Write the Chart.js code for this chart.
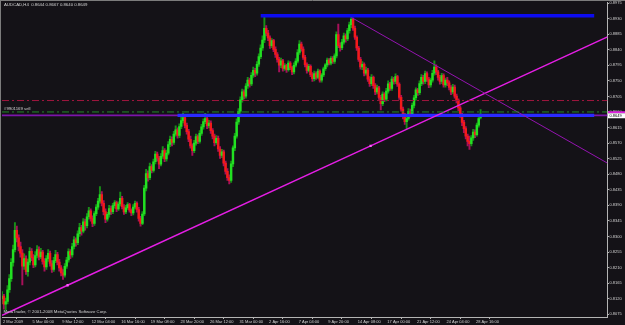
<!DOCTYPE html>
<html>
<head>
<meta charset="utf-8">
<script src="https://cdn.jsdelivr.net/npm/chart.js@4.4.1/dist/chart.umd.min.js"></script>
<style>
  html, body { margin: 0; padding: 0; background: #141217; }
  canvas { display: block; }
</style>
</head>
<body>
<canvas id="chart" width="625" height="325"></canvas>
<script>
// AUDCAD H4, 2 Mar 2009 - 29 Apr 2009
const symbol = "AUDCAD,H4";

const open = [
  0.8120, 0.8128, 0.8104, 0.8112, 0.8146, 0.8178, 0.8225, 0.8262, 0.8318, 0.8296,
  0.8271, 0.8252, 0.8214, 0.8236, 0.8198, 0.8226, 0.8257, 0.8239, 0.8218, 0.8245,
  0.8262, 0.8241, 0.8255, 0.8228, 0.8212, 0.8236, 0.8251, 0.8222, 0.8205, 0.8230,
  0.8248, 0.8226, 0.8209, 0.8195, 0.8188, 0.8214, 0.8232, 0.8256, 0.8247, 0.8271,
  0.8290, 0.8282, 0.8308, 0.8326, 0.8315, 0.8342, 0.8331, 0.8357, 0.8374, 0.8352,
  0.8338, 0.8366, 0.8385, 0.8402, 0.8421, 0.8396, 0.8372, 0.8350, 0.8364, 0.8381,
  0.8372, 0.8389, 0.8398, 0.8380, 0.8394, 0.8410, 0.8386, 0.8371, 0.8383, 0.8392,
  0.8376, 0.8368, 0.8385, 0.8396, 0.8378, 0.8352, 0.8338, 0.8365, 0.8440, 0.8482,
  0.8470, 0.8502, 0.8491, 0.8516, 0.8538, 0.8527, 0.8509, 0.8532, 0.8548, 0.8524,
  0.8541, 0.8566, 0.8581, 0.8572, 0.8596, 0.8608, 0.8592, 0.8618, 0.8635, 0.8644,
  0.8621, 0.8603, 0.8581, 0.8562, 0.8548, 0.8570, 0.8589, 0.8575, 0.8598, 0.8617,
  0.8632, 0.8641, 0.8620, 0.8628, 0.8606, 0.8590, 0.8571, 0.8584, 0.8553, 0.8534,
  0.8545, 0.8512, 0.8488, 0.8470, 0.8462, 0.8510, 0.8556, 0.8590, 0.8631, 0.8662,
  0.8695, 0.8718, 0.8706, 0.8735, 0.8752, 0.8741, 0.8766, 0.8780, 0.8772, 0.8798,
  0.8820, 0.8845, 0.8868, 0.8902, 0.8888, 0.8874, 0.8852, 0.8866, 0.8841, 0.8826,
  0.8812, 0.8795, 0.8808, 0.8786, 0.8794, 0.8782, 0.8801, 0.8788, 0.8776, 0.8795,
  0.8807, 0.8832, 0.8856, 0.8842, 0.8818, 0.8797, 0.8780, 0.8792, 0.8768, 0.8756,
  0.8771, 0.8760, 0.8778, 0.8752, 0.8767, 0.8785, 0.8796, 0.8810, 0.8801, 0.8815,
  0.8806, 0.8822, 0.8884, 0.8852, 0.8846, 0.8862, 0.8880, 0.8871, 0.8895, 0.8912,
  0.8928, 0.8902, 0.8876, 0.8845, 0.8812, 0.8790, 0.8798, 0.8772, 0.8781, 0.8755,
  0.8742, 0.8760, 0.8736, 0.8718, 0.8730, 0.8702, 0.8684, 0.8712, 0.8697, 0.8720,
  0.8741, 0.8728, 0.8755, 0.8748, 0.8762, 0.8740, 0.8702, 0.8668, 0.8650, 0.8632,
  0.8641, 0.8662, 0.8654, 0.8679, 0.8701, 0.8724, 0.8716, 0.8742, 0.8760, 0.8748,
  0.8771, 0.8755, 0.8738, 0.8752, 0.8772, 0.8790, 0.8776, 0.8760, 0.8748, 0.8765,
  0.8738, 0.8752, 0.8744, 0.8731, 0.8718, 0.8732, 0.8706, 0.8694, 0.8672, 0.8651,
  0.8630, 0.8612, 0.8590, 0.8575, 0.8568, 0.8585, 0.8602, 0.8594, 0.8622, 0.8644
];
const high = [
  0.8141, 0.8133, 0.8122, 0.8158, 0.8190, 0.8236, 0.8275, 0.8340, 0.8330, 0.8305,
  0.8284, 0.8262, 0.8250, 0.8244, 0.8235, 0.8268, 0.8265, 0.8248, 0.8256, 0.8274,
  0.8270, 0.8266, 0.8260, 0.8236, 0.8245, 0.8262, 0.8258, 0.8230, 0.8240, 0.8260,
  0.8254, 0.8234, 0.8216, 0.8204, 0.8222, 0.8240, 0.8264, 0.8262, 0.8280, 0.8300,
  0.8296, 0.8316, 0.8338, 0.8332, 0.8352, 0.8350, 0.8366, 0.8384, 0.8380, 0.8360,
  0.8372, 0.8392, 0.8410, 0.8444, 0.8430, 0.8404, 0.8380, 0.8370, 0.8390, 0.8388,
  0.8396, 0.8404, 0.8402, 0.8400, 0.8428, 0.8416, 0.8392, 0.8390, 0.8398, 0.8396,
  0.8380, 0.8392, 0.8402, 0.8400, 0.8384, 0.8358, 0.8372, 0.8448, 0.8494, 0.8490,
  0.8512, 0.8508, 0.8524, 0.8546, 0.8544, 0.8532, 0.8540, 0.8560, 0.8554, 0.8550,
  0.8574, 0.8590, 0.8588, 0.8604, 0.8620, 0.8614, 0.8626, 0.8645, 0.8656, 0.8650,
  0.8628, 0.8610, 0.8590, 0.8568, 0.8578, 0.8596, 0.8594, 0.8606, 0.8624, 0.8640,
  0.8656, 0.8648, 0.8636, 0.8634, 0.8612, 0.8596, 0.8592, 0.8590, 0.8560, 0.8552,
  0.8550, 0.8518, 0.8496, 0.8478, 0.8518, 0.8562, 0.8598, 0.8640, 0.8670, 0.8704,
  0.8726, 0.8724, 0.8742, 0.8760, 0.8758, 0.8774, 0.8790, 0.8786, 0.8806, 0.8828,
  0.8854, 0.8880, 0.8934, 0.8910, 0.8896, 0.8880, 0.8872, 0.8870, 0.8848, 0.8832,
  0.8818, 0.8816, 0.8812, 0.8800, 0.8798, 0.8808, 0.8806, 0.8792, 0.8802, 0.8814,
  0.8840, 0.8866, 0.8862, 0.8848, 0.8824, 0.8802, 0.8798, 0.8796, 0.8774, 0.8778,
  0.8776, 0.8784, 0.8782, 0.8772, 0.8790, 0.8800, 0.8816, 0.8814, 0.8820, 0.8820,
  0.8828, 0.8892, 0.8914, 0.8860, 0.8870, 0.8888, 0.8886, 0.8902, 0.8920, 0.8936,
  0.8932, 0.8908, 0.8880, 0.8850, 0.8818, 0.8806, 0.8802, 0.8790, 0.8786, 0.8762,
  0.8768, 0.8764, 0.8742, 0.8738, 0.8734, 0.8708, 0.8718, 0.8716, 0.8728, 0.8750,
  0.8746, 0.8762, 0.8760, 0.8770, 0.8766, 0.8744, 0.8708, 0.8674, 0.8656, 0.8650,
  0.8670, 0.8668, 0.8686, 0.8708, 0.8730, 0.8728, 0.8750, 0.8768, 0.8766, 0.8778,
  0.8776, 0.8760, 0.8758, 0.8780, 0.8808, 0.8796, 0.8780, 0.8766, 0.8772, 0.8770,
  0.8758, 0.8760, 0.8750, 0.8736, 0.8740, 0.8738, 0.8712, 0.8698, 0.8678, 0.8656,
  0.8636, 0.8618, 0.8596, 0.8590, 0.8592, 0.8610, 0.8608, 0.8628, 0.8650, 0.8667
];
const low = [
  0.8106, 0.8090, 0.8086, 0.8105, 0.8138, 0.8170, 0.8214, 0.8255, 0.8284, 0.8258,
  0.8240, 0.8160, 0.8205, 0.8190, 0.8185, 0.8218, 0.8230, 0.8210, 0.8212, 0.8238,
  0.8232, 0.8236, 0.8220, 0.8200, 0.8205, 0.8228, 0.8214, 0.8196, 0.8199, 0.8224,
  0.8218, 0.8200, 0.8186, 0.8176, 0.8182, 0.8208, 0.8226, 0.8236, 0.8240, 0.8264,
  0.8272, 0.8276, 0.8300, 0.8304, 0.8310, 0.8318, 0.8325, 0.8350, 0.8344, 0.8328,
  0.8332, 0.8360, 0.8378, 0.8396, 0.8388, 0.8362, 0.8340, 0.8344, 0.8356, 0.8364,
  0.8366, 0.8382, 0.8372, 0.8375, 0.8388, 0.8380, 0.8364, 0.8366, 0.8378, 0.8370,
  0.8360, 0.8362, 0.8380, 0.8370, 0.8344, 0.8330, 0.8334, 0.8360, 0.8432, 0.8460,
  0.8464, 0.8484, 0.8486, 0.8510, 0.8518, 0.8496, 0.8504, 0.8526, 0.8516, 0.8518,
  0.8536, 0.8560, 0.8562, 0.8566, 0.8590, 0.8584, 0.8586, 0.8612, 0.8628, 0.8614,
  0.8596, 0.8574, 0.8555, 0.8534, 0.8542, 0.8564, 0.8568, 0.8570, 0.8592, 0.8610,
  0.8626, 0.8612, 0.8614, 0.8598, 0.8582, 0.8562, 0.8566, 0.8546, 0.8526, 0.8528,
  0.8504, 0.8480, 0.8462, 0.8452, 0.8456, 0.8502, 0.8548, 0.8584, 0.8624, 0.8656,
  0.8688, 0.8698, 0.8700, 0.8728, 0.8732, 0.8736, 0.8760, 0.8762, 0.8766, 0.8792,
  0.8814, 0.8838, 0.8860, 0.8880, 0.8866, 0.8844, 0.8846, 0.8834, 0.8818, 0.8804,
  0.8776, 0.8788, 0.8778, 0.8780, 0.8774, 0.8778, 0.8782, 0.8768, 0.8770, 0.8790,
  0.8802, 0.8826, 0.8836, 0.8812, 0.8790, 0.8772, 0.8776, 0.8762, 0.8748, 0.8750,
  0.8754, 0.8756, 0.8746, 0.8746, 0.8762, 0.8780, 0.8790, 0.8796, 0.8796, 0.8800,
  0.8800, 0.8816, 0.8846, 0.8836, 0.8840, 0.8856, 0.8862, 0.8866, 0.8888, 0.8904,
  0.8896, 0.8870, 0.8838, 0.8806, 0.8784, 0.8782, 0.8764, 0.8766, 0.8748, 0.8734,
  0.8736, 0.8728, 0.8710, 0.8712, 0.8696, 0.8666, 0.8678, 0.8690, 0.8692, 0.8714,
  0.8722, 0.8722, 0.8740, 0.8742, 0.8734, 0.8696, 0.8662, 0.8640, 0.8624, 0.8612,
  0.8636, 0.8646, 0.8648, 0.8672, 0.8694, 0.8708, 0.8710, 0.8736, 0.8740, 0.8742,
  0.8748, 0.8730, 0.8732, 0.8746, 0.8766, 0.8768, 0.8752, 0.8740, 0.8742, 0.8732,
  0.8732, 0.8736, 0.8724, 0.8710, 0.8712, 0.8700, 0.8686, 0.8664, 0.8644, 0.8620,
  0.8600, 0.8582, 0.8562, 0.8552, 0.8562, 0.8578, 0.8586, 0.8590, 0.8616, 0.8640
];
const close = [
  0.8128, 0.8104, 0.8112, 0.8146, 0.8178, 0.8225, 0.8262, 0.8318, 0.8296, 0.8271,
  0.8252, 0.8214, 0.8236, 0.8198, 0.8226, 0.8257, 0.8239, 0.8218, 0.8245, 0.8262,
  0.8241, 0.8255, 0.8228, 0.8212, 0.8236, 0.8251, 0.8222, 0.8205, 0.8230, 0.8248,
  0.8226, 0.8209, 0.8195, 0.8188, 0.8214, 0.8232, 0.8256, 0.8247, 0.8271, 0.8290,
  0.8282, 0.8308, 0.8326, 0.8315, 0.8342, 0.8331, 0.8357, 0.8374, 0.8352, 0.8338,
  0.8366, 0.8385, 0.8402, 0.8421, 0.8396, 0.8372, 0.8350, 0.8364, 0.8381, 0.8372,
  0.8389, 0.8398, 0.8380, 0.8394, 0.8410, 0.8386, 0.8371, 0.8383, 0.8392, 0.8376,
  0.8368, 0.8385, 0.8396, 0.8378, 0.8352, 0.8338, 0.8365, 0.8440, 0.8482, 0.8470,
  0.8502, 0.8491, 0.8516, 0.8538, 0.8527, 0.8509, 0.8532, 0.8548, 0.8524, 0.8541,
  0.8566, 0.8581, 0.8572, 0.8596, 0.8608, 0.8592, 0.8618, 0.8635, 0.8644, 0.8621,
  0.8603, 0.8581, 0.8562, 0.8548, 0.8570, 0.8589, 0.8575, 0.8598, 0.8617, 0.8632,
  0.8641, 0.8620, 0.8628, 0.8606, 0.8590, 0.8571, 0.8584, 0.8553, 0.8534, 0.8545,
  0.8512, 0.8488, 0.8470, 0.8462, 0.8510, 0.8556, 0.8590, 0.8631, 0.8662, 0.8695,
  0.8718, 0.8706, 0.8735, 0.8752, 0.8741, 0.8766, 0.8780, 0.8772, 0.8798, 0.8820,
  0.8845, 0.8868, 0.8902, 0.8888, 0.8874, 0.8852, 0.8866, 0.8841, 0.8826, 0.8812,
  0.8795, 0.8808, 0.8786, 0.8794, 0.8782, 0.8801, 0.8788, 0.8776, 0.8795, 0.8807,
  0.8832, 0.8856, 0.8842, 0.8818, 0.8797, 0.8780, 0.8792, 0.8768, 0.8756, 0.8771,
  0.8760, 0.8778, 0.8752, 0.8767, 0.8785, 0.8796, 0.8810, 0.8801, 0.8815, 0.8806,
  0.8822, 0.8884, 0.8852, 0.8846, 0.8862, 0.8880, 0.8871, 0.8895, 0.8912, 0.8928,
  0.8902, 0.8876, 0.8845, 0.8812, 0.8790, 0.8798, 0.8772, 0.8781, 0.8755, 0.8742,
  0.8760, 0.8736, 0.8718, 0.8730, 0.8702, 0.8684, 0.8712, 0.8697, 0.8720, 0.8741,
  0.8728, 0.8755, 0.8748, 0.8762, 0.8740, 0.8702, 0.8668, 0.8650, 0.8632, 0.8641,
  0.8662, 0.8654, 0.8679, 0.8701, 0.8724, 0.8716, 0.8742, 0.8760, 0.8748, 0.8771,
  0.8755, 0.8738, 0.8752, 0.8772, 0.8790, 0.8776, 0.8760, 0.8748, 0.8765, 0.8738,
  0.8752, 0.8744, 0.8731, 0.8718, 0.8732, 0.8706, 0.8694, 0.8672, 0.8651, 0.8630,
  0.8612, 0.8590, 0.8575, 0.8568, 0.8585, 0.8602, 0.8594, 0.8622, 0.8641, 0.8649
];

// time axis labels, one every 16 bars
const timeTickBars = [0, 16, 32, 48, 64, 80, 96, 112, 128, 144, 160, 176, 192, 208, 224, 240, 256];
const timeLabels = [
  "2 Mar 2009", "5 Mar 00:00", "9 Mar 12:00", "12 Mar 04:00", "16 Mar 16:00",
  "19 Mar 08:00", "23 Mar 20:00", "26 Mar 12:00", "31 Mar 00:00", "2 Apr 16:00",
  "7 Apr 04:00", "9 Apr 20:00", "14 Apr 08:00", "17 Apr 00:00", "21 Apr 12:00",
  "24 Apr 04:00", "28 Apr 16:00"
];
const priceTicks = [
  0.8975, 0.8930, 0.8885, 0.8840, 0.8795, 0.8750, 0.8705, 0.8660, 0.8615, 0.8570,
  0.8525, 0.8480, 0.8435, 0.8390, 0.8345, 0.8300, 0.8255, 0.8210, 0.8165, 0.8120, 0.8075
];

// drawn objects: [bar index, price]
const supportLine = [[0, 0.8072], [35.5, 0.8159], [199.5, 0.8562], [327.7, 0.8877]];
const resistanceRay = [[189.2, 0.8933], [327.7, 0.8512]];
const topLevel = [[140, 0.8938], [320.5, 0.8938]];
const bidLevel = [[95, 0.8650], [320.5, 0.8650]];
const stopLevel = 0.8693;
const orderLevel = 0.8660;
const baseLevel = 0.8650;
const orderText = "#9901169 sell";

const xMin = 0, xMax = 327.7;
const yMin = 0.80672, yMax = 0.89779;

const bg = "#141217";
const axisColor = "#b4b4b4";
const textColor = "#d2d2d2";
const fontFamily = "'Liberation Sans', Arial, sans-serif";

const bars = close.map((c, i) => i);
const bull = bars.map(i => close[i] >= open[i]);

const pts = arr => arr.map(([x, y]) => ({ x, y }));
const flat = y => [{ x: xMin, y }, { x: xMax, y }];

const lineSet = (data, color, width, extra) => ({
    type: "line",
    data,
    borderColor: color,
    borderWidth: width,
    pointRadius: 0,
    fill: false,
    tension: 0,
    order: 1,
    ...extra,
});

const backgroundPlugin = {
    id: "mtBackground",
    beforeDraw(chart) {
        const ctx = chart.ctx;
        ctx.save();
        ctx.fillStyle = bg;
        ctx.fillRect(0, 0, chart.width, chart.height);
        ctx.strokeStyle = "#7c7c7c";
        ctx.lineWidth = 1;
        ctx.beginPath();
        ctx.moveTo(0, 0.5);
        ctx.lineTo(chart.width, 0.5);
        ctx.moveTo(0.5, 0);
        ctx.lineTo(0.5, chart.height);
        ctx.stroke();
        ctx.restore();
    },
};

const overlayPlugin = {
    id: "mtOverlay",
    afterDraw(chart) {
        const ctx = chart.ctx;
        const y = chart.scales.y;
        const area = chart.chartArea;
        const n = close.length - 1;
        ctx.save();
        ctx.font = "4.3px " + fontFamily;
        ctx.fillStyle = textColor;
        ctx.textBaseline = "middle";
        ctx.textAlign = "left";
        ctx.fillText(`${symbol}  ${open[n].toFixed(4)} ${high[n].toFixed(4)} ${low[n].toFixed(4)} ${close[n].toFixed(4)}`, 4, 5);
        ctx.fillText("MetaTrader, \u00a9 2001-2008 MetaQuotes Software Corp.", 3.5, area.bottom - 5);
        ctx.fillText(orderText, 4, y.getPixelForValue(orderLevel) - 3);

        // bid price box on the price axis
        const py = y.getPixelForValue(close[n]);
        ctx.fillStyle = "#e020e0";
        ctx.fillRect(area.right + 0.5, py - 4.5, 18, 2);
        ctx.fillStyle = "#ffffff";
        ctx.fillRect(area.right + 0.5, py - 2.5, 18, 5);
        ctx.fillStyle = "#000000";
        ctx.font = "4px " + fontFamily;
        ctx.fillText(close[n].toFixed(4), area.right + 2, py);
        ctx.restore();
    },
};

new Chart(document.getElementById("chart"), {
    data: {
        datasets: [
            lineSet(pts(topLevel), "#0c0cf0", 3.6),
            lineSet(pts(bidLevel), "#2a2aff", 3.4, { order: 2 }),
            lineSet(flat(baseLevel), "#7c14aa", 1.6, { order: 3 }),
            lineSet(flat(stopLevel), "#a0163e", 1, { borderDash: [7, 3, 2, 3] }),
            lineSet(flat(orderLevel), "#22882a", 1, { borderDash: [7, 3, 2, 3] }),
            lineSet(pts(resistanceRay), "#9414b0", 1),
            lineSet(pts(supportLine), "#e41ee4", 1.5, {
                pointRadius: [0, 1.6, 1.6, 0],
                pointStyle: "rect",
                pointBackgroundColor: "#ff5cff",
                pointBorderWidth: 0,
            }),
            {
                type: "bar",
                data: bars.map(i => ({ x: i, y: [low[i], high[i]] })),
                backgroundColor: bars.map(i => (bull[i] ? "#178f17" : "#a8105a")),
                barThickness: 1.3,
                grouped: false,
                borderWidth: 0,
                order: 6,
            },
            {
                type: "bar",
                data: bars.map(i => ({ x: i, y: [open[i], close[i]] })),
                backgroundColor: bars.map(i => (bull[i] ? "#22e022" : "#f41a1a")),
                barThickness: 1.8,
                grouped: false,
                borderWidth: 0,
                order: 5,
            },
        ],
    },
    options: {
        responsive: false,
        animation: false,
        events: [],
        layout: { padding: { left: 2, top: 2, right: 0, bottom: 0 } },
        plugins: { legend: { display: false }, tooltip: { enabled: false } },
        scales: {
            x: {
                type: "linear",
                min: xMin,
                max: xMax,
                offset: false,
                grid: { drawOnChartArea: false, drawTicks: true, tickLength: 2, color: axisColor },
                border: { display: true, color: axisColor },
                ticks: {
                    autoSkip: false,
                    maxRotation: 0,
                    align: "start",
                    padding: 0.5,
                    labelOffset: 1,
                    color: textColor,
                    font: { family: fontFamily, size: 4 },
                    callback: (v, i) => timeLabels[i],
                },
                afterBuildTicks: s => { s.ticks = timeTickBars.map(v => ({ value: v })); },
                afterFit: s => { s.height = 8; s.paddingLeft = 0; s.paddingRight = 0; },
            },
            y: {
                type: "linear",
                position: "right",
                min: yMin,
                max: yMax,
                grid: { drawOnChartArea: false, drawTicks: true, tickLength: 1.5, color: axisColor },
                border: { display: true, color: axisColor },
                ticks: {
                    padding: 0.5,
                    color: textColor,
                    font: { family: fontFamily, size: 4 },
                    callback: v => v.toFixed(4),
                },
                afterBuildTicks: s => { s.ticks = priceTicks.map(v => ({ value: v })); },
                afterFit: s => { s.width = 17.5; s.paddingTop = 0; s.paddingBottom = 0; },
            },
        },
    },
    plugins: [backgroundPlugin, overlayPlugin],
});
</script>
</body>
</html>
